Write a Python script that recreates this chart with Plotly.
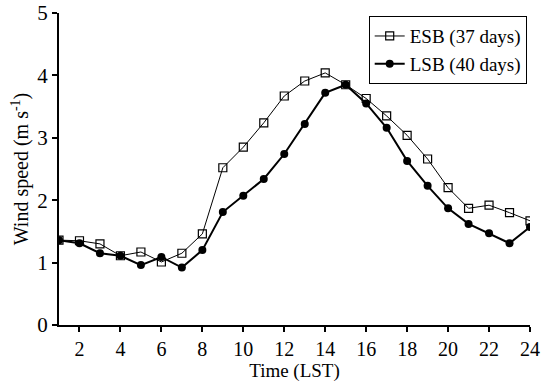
import plotly.graph_objects as go

hours = list(range(1, 25))
esb = [1.36, 1.35, 1.30, 1.11, 1.17, 1.01, 1.15, 1.46, 2.52, 2.85, 3.24, 3.67,
       3.91, 4.04, 3.85, 3.63, 3.35, 3.04, 2.66, 2.20, 1.87, 1.92, 1.80, 1.67]
lsb = [1.36, 1.31, 1.15, 1.11, 0.96, 1.09, 0.92, 1.20, 1.81, 2.07, 2.34, 2.74,
       3.22, 3.72, 3.85, 3.55, 3.16, 2.63, 2.23, 1.87, 1.62, 1.47, 1.31, 1.57]
xticks = list(range(2, 25, 2))
yticks = [0, 1, 2, 3, 4, 5]

FONT = "Liberation Serif"

fig = go.Figure()
fig.add_trace(go.Scatter(
    x=hours, y=esb, mode="lines+markers", name="ESB (37 days)",
    line=dict(color="black", width=1),
    marker=dict(symbol="square-open", size=8, color="black", line=dict(width=1.2)),
))
fig.add_trace(go.Scatter(
    x=hours, y=lsb, mode="lines+markers", name="LSB (40 days)",
    line=dict(color="black", width=2),
    marker=dict(symbol="circle", size=8, color="black"),
))

fig.update_layout(
    width=543, height=384,
    margin=dict(l=59, r=13, t=13, b=59, autoexpand=False),
    paper_bgcolor="white", plot_bgcolor="white",
    font=dict(family=FONT, size=19, color="black"),
    showlegend=True,
    legend=dict(
        x=0.993, y=0.99, xanchor="right", yanchor="top",
        bordercolor="black", borderwidth=1, bgcolor="white",
        font=dict(family=FONT, size=19, color="black"),
        tracegroupgap=0, itemwidth=30,
    ),
    xaxis=dict(
        range=[1, 24], tickvals=xticks, ticktext=[str(v) for v in xticks],
        showline=True, linecolor="black", linewidth=2, mirror=False,
        ticks="outside", ticklen=5, tickwidth=1.5, tickcolor="black",
        showgrid=False, zeroline=False, automargin=False,
        title=dict(text="Time (LST)", font=dict(family=FONT, size=19), standoff=4),
        tickfont=dict(family=FONT, size=20),
    ),
    yaxis=dict(
        range=[0, 5], tickvals=yticks, ticktext=[str(v) for v in yticks],
        showline=True, linecolor="black", linewidth=2, mirror=False,
        ticks="outside", ticklen=5, tickwidth=1.5, tickcolor="black",
        showgrid=False, zeroline=False, automargin=False,
        title=dict(text="Wind speed (m s<sup>-1</sup>)", font=dict(family=FONT, size=20), standoff=3),
        tickfont=dict(family=FONT, size=21),
    ),
)

fig.write_html("out.html")
